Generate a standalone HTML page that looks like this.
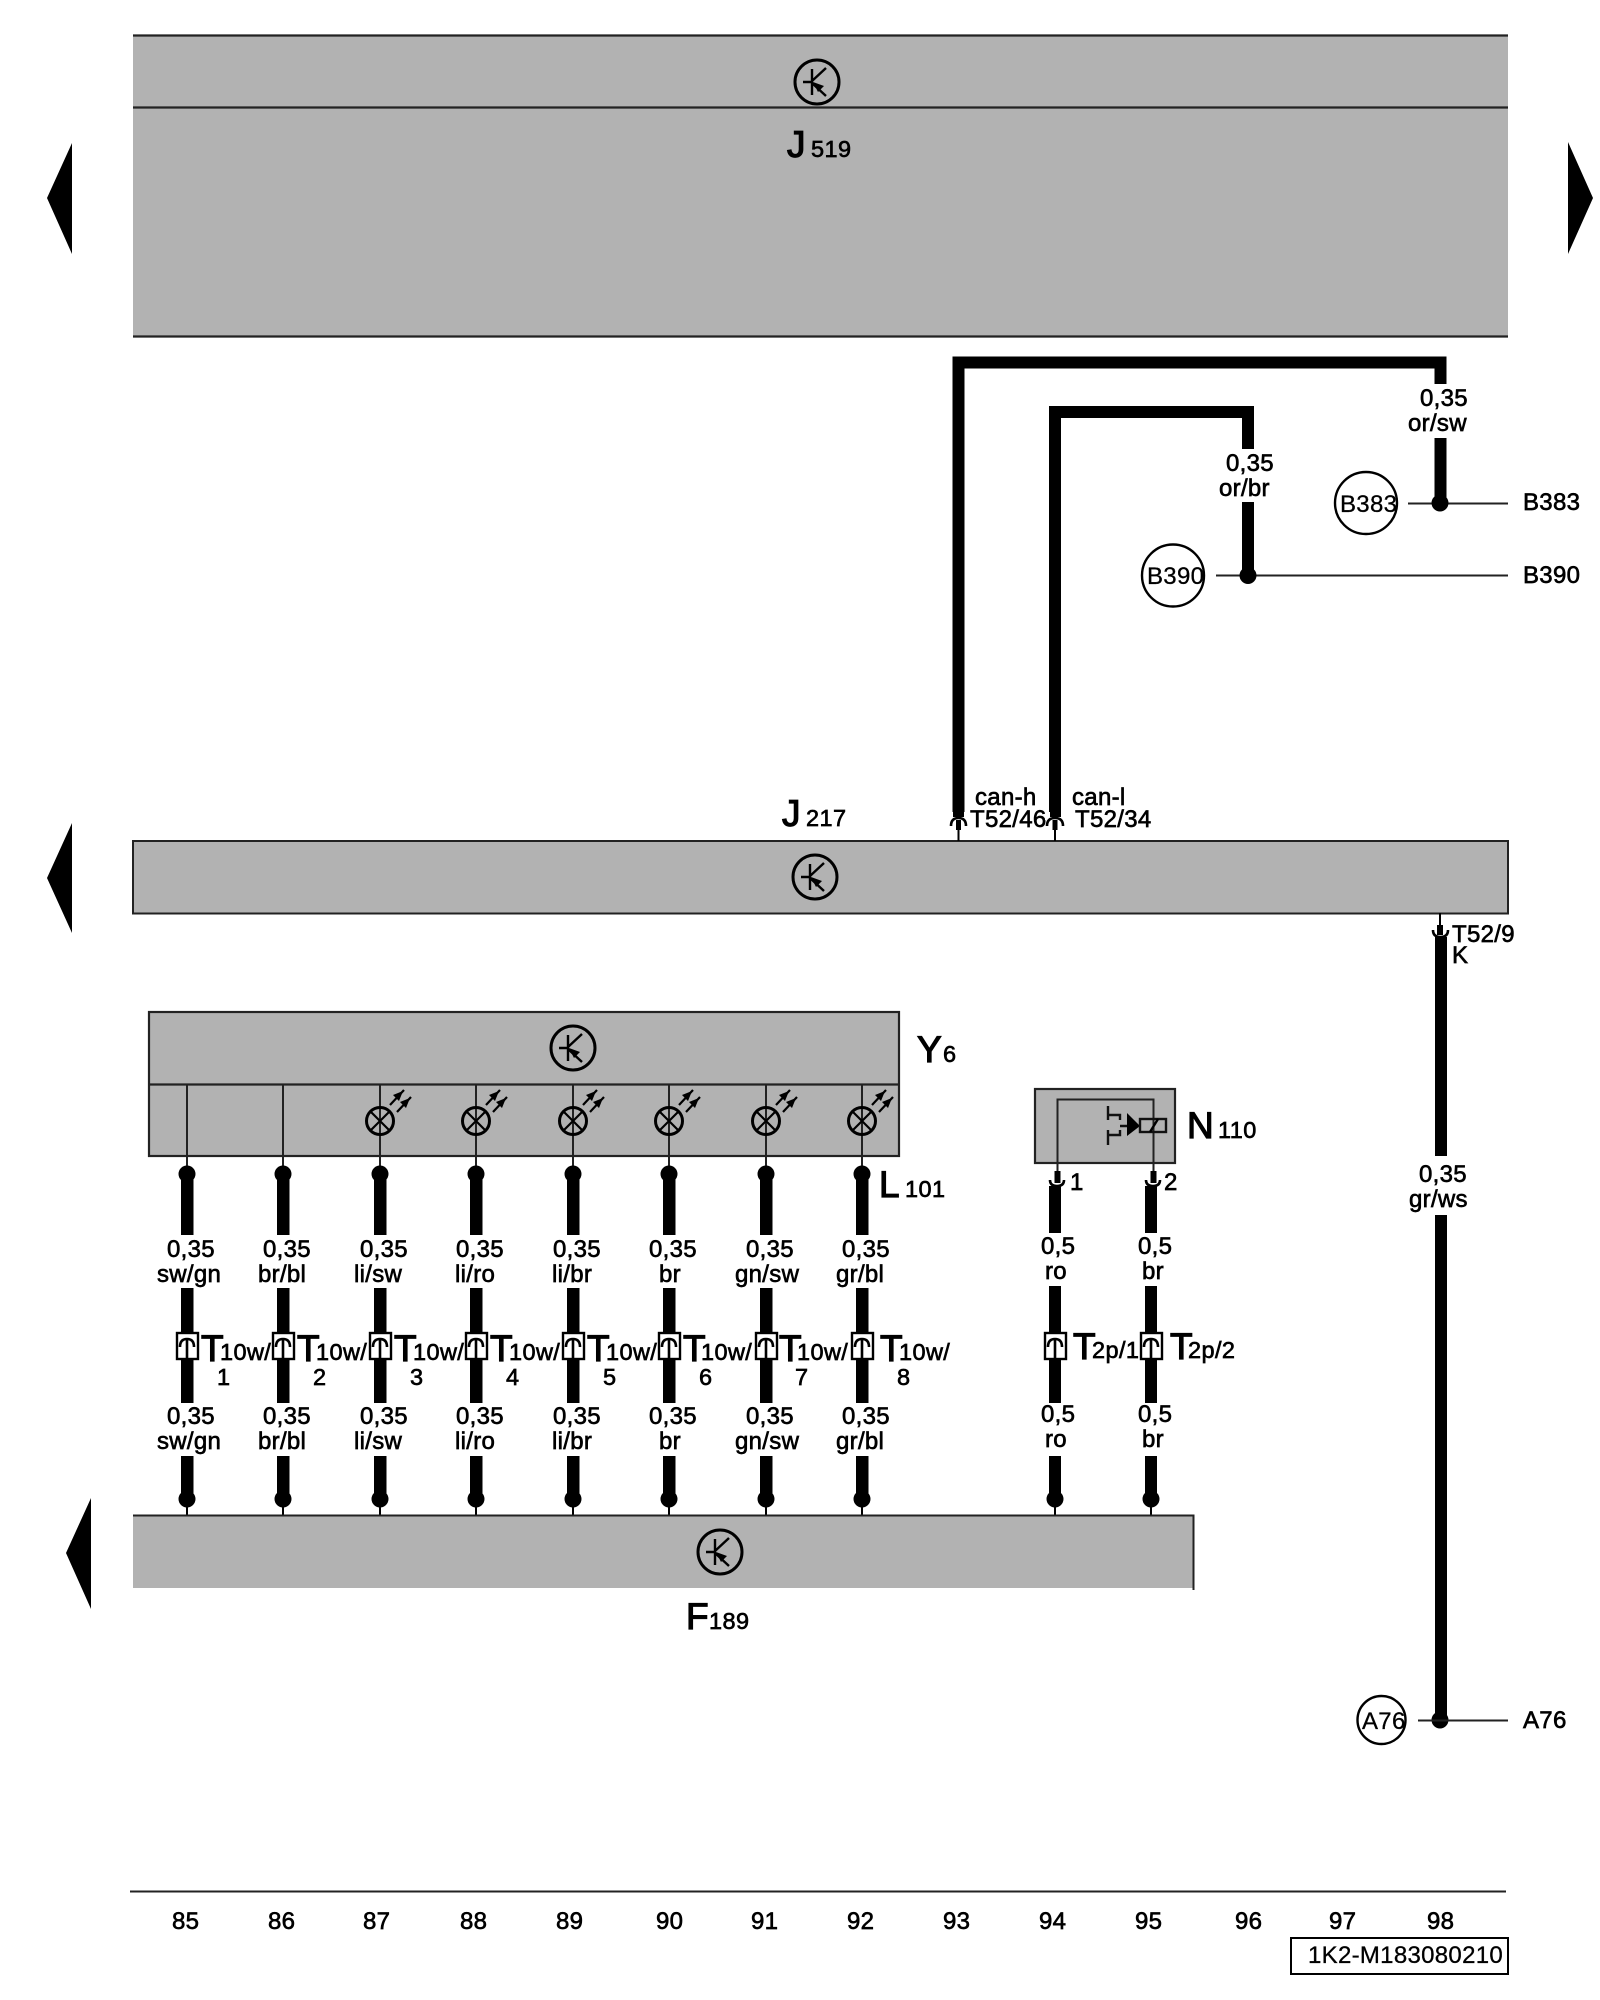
<!DOCTYPE html>
<html><head><meta charset="utf-8"><style>
html,body{margin:0;padding:0;background:#fff}
svg{display:block}
text{font-family:"Liberation Sans",sans-serif;fill:#000;stroke:#000;stroke-width:.65;font-size:24px;letter-spacing:.3px}
.b{font-size:37px;stroke-width:1.2;letter-spacing:0}
.s{font-size:23.5px;stroke-width:.65;letter-spacing:.4px}
.r{stroke-width:.3}
</style></head><body>
<svg width="1600" height="2000" viewBox="0 0 1600 2000" xmlns="http://www.w3.org/2000/svg">
<defs>
<g id="tr"><circle r="22" fill="none" stroke="#000" stroke-width="3"/>
<path d="M-14 0H-5M-5-13V13M-5-1L9-14M-5 1L9 14" fill="none" stroke="#000" stroke-width="2.4"/>
<path d="M-4 0L7 4L1 10Z" fill="#000"/></g>
<g id="lamp"><circle r="13.5" fill="none" stroke="#000" stroke-width="3"/>
<path d="M-9.500-9.500L9.500 9.500M-9.500 9.500L9.500-9.500" stroke="#000" stroke-width="2.2"/>
<path d="M10-16L24-31M17-9L31-24" stroke="#000" stroke-width="2.2"/>
<path d="M13-26L23-30L19-20ZM20-19L30-23L26-13Z" fill="#000"/></g>
<g id="conn"><rect x="-10" y="1333" width="21" height="26" fill="#fff" stroke="#000" stroke-width="2.4"/>
<path d="M-7 1347Q-7 1339 0 1339Q7 1339 7 1347M0 1339V1358" fill="none" stroke="#000" stroke-width="2.6"/></g>
<g id="w35"><rect x="-6" y="1178" width="12.500" height="57"/><circle cy="1174" r="8.500"/><rect x="-6" y="1288" width="12.500" height="115"/><rect x="-6" y="1456" width="12.500" height="42"/><circle cy="1499" r="8.500"/><path d="M0 1499V1515" stroke="#000" stroke-width="2"/><use href="#conn"/></g>
</defs>

<!-- J519 -->
<rect x="133" y="35" width="1375" height="301" fill="#b2b2b2"/>
<path d="M133 35.500H1508M133 107.500H1508M133 336.500H1508" stroke="#222" stroke-width="2.2"/>
<use href="#tr" x="817" y="82"/>
<text class="b" x="787" y="157">J</text><text class="s" x="811" y="157">519</text>

<!-- arrows -->
<path d="M72 143L47 198L72 254ZM1568 142L1593 198L1568 254ZM72 823L47 878L72 933ZM91 1498L66 1553L91 1609Z" fill="#000"/>

<!-- CAN wires -->
<path d="M958.500 817V362.500H1440.500V384M1440.500 438V503M1055 817V412H1248V449M1248 502V575" fill="none" stroke="#000" stroke-width="12"/>
<path d="M1408 503.500H1508M1216 575.500H1508" stroke="#222" stroke-width="2"/>
<circle cx="1440" cy="503" r="8.500"/><circle cx="1248" cy="575.500" r="8.500"/>
<circle cx="1366" cy="503" r="31" fill="none" stroke="#000" stroke-width="2.400"/>
<circle cx="1173" cy="575.500" r="31" fill="none" stroke="#000" stroke-width="2.400"/>
<text class="r" x="1340" y="512">B383</text>
<text class="r" x="1147" y="584">B390</text>
<text x="1523" y="510">B383</text>
<text x="1523" y="583">B390</text>
<text x="1420" y="406">0,35</text><text x="1408" y="431">or/sw</text>
<text x="1226" y="471">0,35</text><text x="1219" y="496">or/br</text>
<text x="975" y="805">can-h</text><text x="970" y="827">T52/46</text>
<text x="1072" y="805">can-l</text><text x="1075" y="827">T52/34</text>

<!-- J217 -->
<rect x="133" y="841" width="1375" height="72.500" fill="#b2b2b2" stroke="#222" stroke-width="2"/>
<use href="#tr" x="815" y="877"/>
<text class="b" x="782" y="826">J</text><text class="s" x="806" y="826">217</text>
<g fill="#fff" stroke="none"><rect x="948" y="812" width="22" height="8"/><rect x="1045" y="812" width="22" height="8"/></g>
<path d="M958.500 824V841M1055 824V841M1440 913V930" stroke="#000" stroke-width="2"/>
<path d="M951 826Q951 818 958.500 818Q966 818 966 826M1047 826Q1047 818 1055 818Q1063 818 1063 826" fill="none" stroke="#000" stroke-width="2.600"/>
<rect x="956" y="820" width="5" height="10"/><rect x="1052.500" y="820" width="5" height="10"/>
<rect x="953" y="808" width="11" height="9"/><rect x="1050" y="808" width="11" height="9"/>
<rect x="1437" y="925" width="6" height="10"/>
<path d="M1433 930Q1433 937 1440.500 937Q1448 937 1448 930" fill="none" stroke="#000" stroke-width="2.600"/>
<path d="M1441 937V1156M1441 1215V1720" stroke="#000" stroke-width="12"/>
<circle cx="1440" cy="1720" r="8.500"/>
<path d="M1418 1720.500H1508" stroke="#222" stroke-width="2"/>
<circle cx="1381.500" cy="1720" r="24" fill="none" stroke="#000" stroke-width="2.400"/>
<text class="r" x="1362" y="1729">A76</text>
<text x="1523" y="1728">A76</text>
<text x="1452" y="942">T52/9</text><text x="1452" y="963">K</text>
<text x="1419" y="1182">0,35</text><text x="1409" y="1207">gr/ws</text>

<!-- Y6 -->
<rect x="149" y="1012" width="750" height="144" fill="#b2b2b2" stroke="#222" stroke-width="2.200"/>
<path d="M149 1084.500H899" stroke="#222" stroke-width="2.200"/>
<use href="#tr" x="573" y="1048"/>
<text class="b" x="917" y="1062">Y</text><text class="s" x="943" y="1062">6</text>
<text class="b" x="879" y="1197">L</text><text class="s" x="905" y="1197">101</text>
<path d="M187 1084V1174M283 1084V1174M380 1084V1174M476 1084V1174M573 1084V1174M669 1084V1174M766 1084V1174M862 1084V1174" stroke="#222" stroke-width="2"/>
<use href="#lamp" x="380" y="1121"/><use href="#lamp" x="476" y="1121"/><use href="#lamp" x="573" y="1121"/><use href="#lamp" x="669" y="1121"/><use href="#lamp" x="766" y="1121"/><use href="#lamp" x="862" y="1121"/>
<use href="#w35" x="187"/><use href="#w35" x="283"/><use href="#w35" x="380"/><use href="#w35" x="476"/><use href="#w35" x="573"/><use href="#w35" x="669"/><use href="#w35" x="766"/><use href="#w35" x="862"/>

<!-- wire labels upper -->
<text x="167" y="1257">0,35</text><text x="157" y="1282">sw/gn</text>
<text x="263" y="1257">0,35</text><text x="258" y="1282">br/bl</text>
<text x="360" y="1257">0,35</text><text x="354" y="1282">li/sw</text>
<text x="456" y="1257">0,35</text><text x="455" y="1282">li/ro</text>
<text x="553" y="1257">0,35</text><text x="552" y="1282">li/br</text>
<text x="649" y="1257">0,35</text><text x="659" y="1282">br</text>
<text x="746" y="1257">0,35</text><text x="735" y="1282">gn/sw</text>
<text x="842" y="1257">0,35</text><text x="836" y="1282">gr/bl</text>
<!-- wire labels lower -->
<text x="167" y="1424">0,35</text><text x="157" y="1449">sw/gn</text>
<text x="263" y="1424">0,35</text><text x="258" y="1449">br/bl</text>
<text x="360" y="1424">0,35</text><text x="354" y="1449">li/sw</text>
<text x="456" y="1424">0,35</text><text x="455" y="1449">li/ro</text>
<text x="553" y="1424">0,35</text><text x="552" y="1449">li/br</text>
<text x="649" y="1424">0,35</text><text x="659" y="1449">br</text>
<text x="746" y="1424">0,35</text><text x="735" y="1449">gn/sw</text>
<text x="842" y="1424">0,35</text><text x="836" y="1449">gr/bl</text>

<!-- T10w -->
<text class="b" x="201" y="1361">T</text><text class="s" x="220" y="1360">10w/</text><text class="s" x="217" y="1385">1</text>
<text class="b" x="297" y="1361">T</text><text class="s" x="316" y="1360">10w/</text><text class="s" x="313" y="1385">2</text>
<text class="b" x="394" y="1361">T</text><text class="s" x="413" y="1360">10w/</text><text class="s" x="410" y="1385">3</text>
<text class="b" x="490" y="1361">T</text><text class="s" x="509" y="1360">10w/</text><text class="s" x="506" y="1385">4</text>
<text class="b" x="587" y="1361">T</text><text class="s" x="606" y="1360">10w/</text><text class="s" x="603" y="1385">5</text>
<text class="b" x="683" y="1361">T</text><text class="s" x="701" y="1360">10w/</text><text class="s" x="699" y="1385">6</text>
<text class="b" x="779" y="1361">T</text><text class="s" x="797" y="1360">10w/</text><text class="s" x="795" y="1385">7</text>
<text class="b" x="880" y="1361">T</text><text class="s" x="899" y="1360">10w/</text><text class="s" x="897" y="1385">8</text>

<!-- N110 -->
<rect x="1035" y="1089" width="140" height="74" fill="#b2b2b2" stroke="#222" stroke-width="2.200"/>
<path d="M1057.500 1173V1099.500H1153.500V1173" fill="none" stroke="#222" stroke-width="2"/>
<path d="M1108 1106V1120M1108 1130V1145M1108 1115H1120V1120M1108 1135H1120V1130M1120 1126H1130" fill="none" stroke="#111" stroke-width="2.400"/>
<path d="M1127 1113L1140 1126L1127 1136Z" fill="#000"/>
<rect x="1140" y="1119" width="26" height="13" fill="none" stroke="#111" stroke-width="2.400"/>
<path d="M1150 1132L1158 1119" stroke="#000" stroke-width="2.400"/>
<rect x="1054.500" y="1171" width="6" height="12"/><rect x="1150.500" y="1171" width="6" height="12"/>
<path d="M1050 1180Q1050 1186 1057 1186Q1064 1186 1064 1180M1146 1180Q1146 1186 1153 1186Q1160 1186 1160 1180" fill="none" stroke="#000" stroke-width="2.600"/>
<text class="b" x="1187" y="1138">N</text><text class="s" x="1218" y="1138">110</text>
<text x="1070" y="1190">1</text><text x="1164" y="1190">2</text>
<g>
<rect x="1049" y="1186" width="12" height="47"/><rect x="1145" y="1186" width="12" height="47"/>
<rect x="1049" y="1286" width="12" height="117"/><rect x="1145" y="1286" width="12" height="117"/>
<rect x="1049" y="1456" width="12" height="42"/><rect x="1145" y="1456" width="12" height="42"/>
<circle cx="1055" cy="1499" r="8.500"/><circle cx="1151" cy="1499" r="8.500"/>
<path d="M1055 1499V1515M1151 1499V1515" stroke="#000" stroke-width="2"/>
<use href="#conn" x="1055"/><use href="#conn" x="1151"/>
</g>
<text x="1041" y="1254">0,5</text><text x="1045" y="1279">ro</text>
<text x="1138" y="1254">0,5</text><text x="1142" y="1279">br</text>
<text x="1041" y="1422">0,5</text><text x="1045" y="1447">ro</text>
<text x="1138" y="1422">0,5</text><text x="1142" y="1447">br</text>
<text class="b" x="1073" y="1359">T</text><text class="s" x="1092" y="1358">2p/1</text>
<text class="b" x="1170" y="1359">T</text><text class="s" x="1188" y="1358">2p/2</text>

<!-- F189 -->
<rect x="133" y="1515" width="1060" height="73" fill="#b2b2b2"/>
<path d="M133 1515.500H1193.500V1590" fill="none" stroke="#222" stroke-width="2"/>
<use href="#tr" x="720" y="1552"/>
<text class="b" x="686" y="1629">F</text><text class="s" x="709" y="1629">189</text>

<!-- footer -->
<path d="M130 1891.500H1506" stroke="#222" stroke-width="2"/>
<text x="172" y="1929">85</text><text x="268" y="1929">86</text><text x="363" y="1929">87</text><text x="460" y="1929">88</text>
<text x="556" y="1929">89</text><text x="656" y="1929">90</text><text x="751" y="1929">91</text><text x="847" y="1929">92</text>
<text x="943" y="1929">93</text><text x="1039" y="1929">94</text><text x="1135" y="1929">95</text><text x="1235" y="1929">96</text>
<text x="1329" y="1929">97</text><text x="1427" y="1929">98</text>
<rect x="1291" y="1938" width="217" height="36" fill="#fff" stroke="#000" stroke-width="2"/>
<text class="r" x="1308" y="1963">1K2-M183080210</text>
</svg>
</body></html>
